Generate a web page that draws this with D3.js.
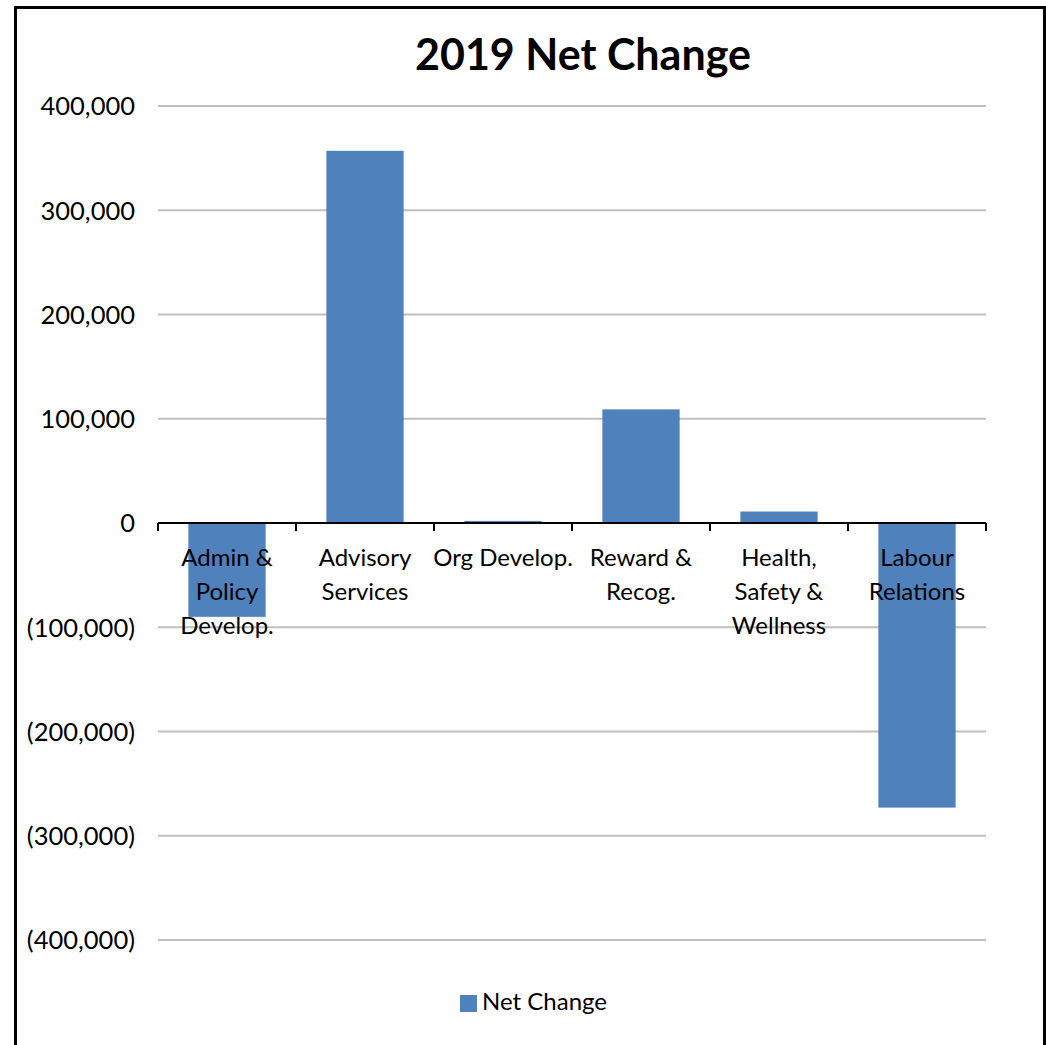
<!DOCTYPE html>
<html>
<head>
<meta charset="utf-8">
<script src="https://cdn.jsdelivr.net/npm/d3@7"></script>
<style>
  html, body { margin: 0; padding: 0; background: #fff; }
  svg { display: block; }
</style>
</head>
<body>
<svg id="chart" width="1046" height="1045"></svg>
<script>
const categories = [
  ["Admin &", "Policy", "Develop."],
  ["Advisory", "Services"],
  ["Org Develop."],
  ["Reward &", "Recog."],
  ["Health,", "Safety &", "Wellness"],
  ["Labour", "Relations"]
];
const categoryKeys = ["Admin & Policy Develop.", "Advisory Services", "Org Develop.", "Reward & Recog.", "Health, Safety & Wellness", "Labour Relations"];
const netChange = [-90000, 357000, 2000, 109000, 11000, -273000];
const yTicks = [400000, 300000, 200000, 100000, 0, -100000, -200000, -300000, -400000];
const seriesName = "Net Change";
const title = "2019 Net Change";

(function () {
const svg = d3.select("#chart");
const font = "Lato, 'Open Sans', sans-serif";
const barColor = "#4f81bd";

const pLeft = 158, pRight = 986, pTop = 106, pBottom = 940;

const x = d3.scaleBand().domain(categoryKeys).range([pLeft, pRight]).paddingInner(0.44).paddingOuter(0.22);
const xb = d3.scaleBand().domain(categoryKeys).range([pLeft, pRight]);
const y = d3.scaleLinear().domain([-400000, 400000]).range([pBottom, pTop]);

// outer border
svg.append("path")
  .attr("d", `M15.5,1045 L15.5,7.5 L1044.5,7.5 L1044.5,1045`)
  .attr("fill", "none").attr("stroke", "#000").attr("stroke-width", 3);

// title
svg.append("text").attr("x", 583).attr("y", 70)
  .attr("text-anchor", "middle").attr("font-family", font).attr("font-weight", "bold")
  .attr("font-size", 43).attr("fill", "#000").text(title);

// gridlines
svg.append("g").selectAll("line").data(yTicks.filter(d => d !== 0)).join("line")
  .attr("x1", pLeft).attr("x2", pRight)
  .attr("y1", d => y(d)).attr("y2", d => y(d))
  .attr("stroke", "#bfbfbf").attr("stroke-width", 2);

// y axis labels
const fmt = d => d < 0 ? "(" + d3.format(",")(-d) + ")" : d3.format(",")(d);
const yAxis = d3.axisLeft(y).tickValues(yTicks).tickFormat(fmt).tickSize(0).tickPadding(0);
const yg = svg.append("g").attr("transform", `translate(135,0)`).call(yAxis);
yg.select(".domain").remove();
yg.selectAll("text").attr("font-family", font).attr("font-size", 25.5).attr("fill", "#000").attr("dy", "0.35em");

// bars
svg.append("g").selectAll("rect").data(netChange).join("rect")
  .attr("x", (d, i) => x(categoryKeys[i]))
  .attr("width", x.bandwidth())
  .attr("y", d => y(Math.max(0, d)))
  .attr("height", d => Math.abs(y(d) - y(0)))
  .attr("fill", barColor);

// x axis line with ticks
const xAxis = d3.axisBottom(xb).tickSize(0).tickFormat("");
const xg = svg.append("g").attr("transform", `translate(0,${y(0)})`).call(xAxis);
xg.select(".domain").attr("stroke", "#000").attr("stroke-width", 2).attr("d", `M${pLeft},0H${pRight}`);
const bounds = categoryKeys.map(k => xb(k)).concat([pRight]);
xg.selectAll(".bnd").data(bounds).join("line").attr("class", "bnd")
  .attr("x1", d => d).attr("x2", d => d).attr("y1", 0).attr("y2", 8)
  .attr("stroke", "#000").attr("stroke-width", 2);

// category labels
const lab = svg.append("g");
categories.forEach((lines, i) => {
  const cx = xb(categoryKeys[i]) + xb.bandwidth() / 2;
  const t = lab.append("text").attr("x", cx).attr("y", 566)
    .attr("text-anchor", "middle").attr("font-family", font).attr("font-size", 24).attr("fill", "#000");
  lines.forEach((ln, j) => {
    t.append("tspan").attr("x", cx).attr("y", 566 + j * 34).text(ln);
  });
});

// legend
svg.append("rect").attr("x", 460).attr("y", 995).attr("width", 17).attr("height", 17).attr("fill", barColor);
svg.append("text").attr("x", 482).attr("y", 1010).attr("font-family", font).attr("font-size", 24).attr("fill", "#000").text(seriesName);
})();
</script>
</body>
</html>
